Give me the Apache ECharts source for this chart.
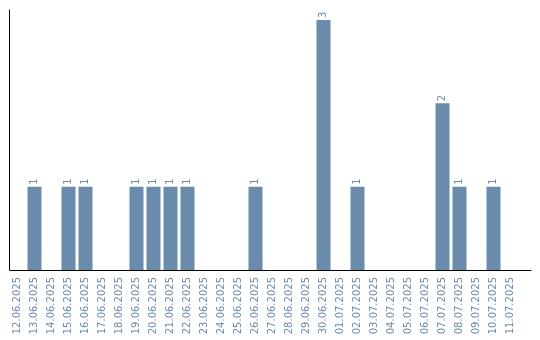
<!DOCTYPE html>
<html><head><meta charset="utf-8">
<script src="https://cdn.jsdelivr.net/npm/echarts@6/dist/echarts.min.js"></script>
<style>html,body{margin:0;padding:0;background:#fff}#c{width:540px;height:340px}</style>
</head><body><div id="c"></div>
<script>
const categories = ["12.06.2025","13.06.2025","14.06.2025","15.06.2025","16.06.2025","17.06.2025","18.06.2025","19.06.2025","20.06.2025","21.06.2025","22.06.2025","23.06.2025","24.06.2025","25.06.2025","26.06.2025","27.06.2025","28.06.2025","29.06.2025","30.06.2025","01.07.2025","02.07.2025","03.07.2025","04.07.2025","05.07.2025","06.07.2025","07.07.2025","08.07.2025","09.07.2025","10.07.2025","11.07.2025"];
const counts = [0,1,0,1,1,0,0,1,1,1,1,0,0,0,1,0,0,0,3,0,1,0,0,0,0,2,1,0,1,0];
const yMax = 3.12;

const color = '#6a8bab';
const chart = echarts.init(document.getElementById('c'), null, {renderer:'canvas'});
chart.setOption({
  animation: false,
  grid: [
    {left: 9, top: 10, width: 510, height: 260, containLabel: false},
    {left: 10, top: 10, width: 521, height: 260, containLabel: false}
  ],
  xAxis: [
    {
      type: 'category', data: categories, gridIndex: 0,
      axisLine: {show: false},
      axisTick: {show: false},
      axisLabel: {rotate: 90, interval: 0, color: color, fontSize: 10, fontFamily: 'DejaVu Sans', margin: 7}
    },
    {
      type: 'value', gridIndex: 1, min: 0, max: 1,
      axisLine: {show: true, lineStyle: {color: '#000', width: 1}},
      axisTick: {show: false}, axisLabel: {show: false}, splitLine: {show: false}
    }
  ],
  yAxis: [
    {
      type: 'value', gridIndex: 0, min: 0, max: yMax,
      axisLine: {show: true, lineStyle: {color: '#000', width: 1}},
      axisTick: {show: false}, axisLabel: {show: false}, splitLine: {show: false}
    },
    {
      type: 'value', gridIndex: 1, min: 0, max: 1, show: false
    }
  ],
  series: [{
    type: 'bar', data: counts.map(v => v === 0 ? null : v),
    xAxisIndex: 0, yAxisIndex: 0,
    barWidth: 14,
    itemStyle: {color: color},
    label: {show: true, position: 'top', rotate: 90, align: 'left', verticalAlign: 'middle', distance: 2,
      color: color, fontSize: 10, fontFamily: 'DejaVu Sans'}
  }]
});
</script></body></html>
